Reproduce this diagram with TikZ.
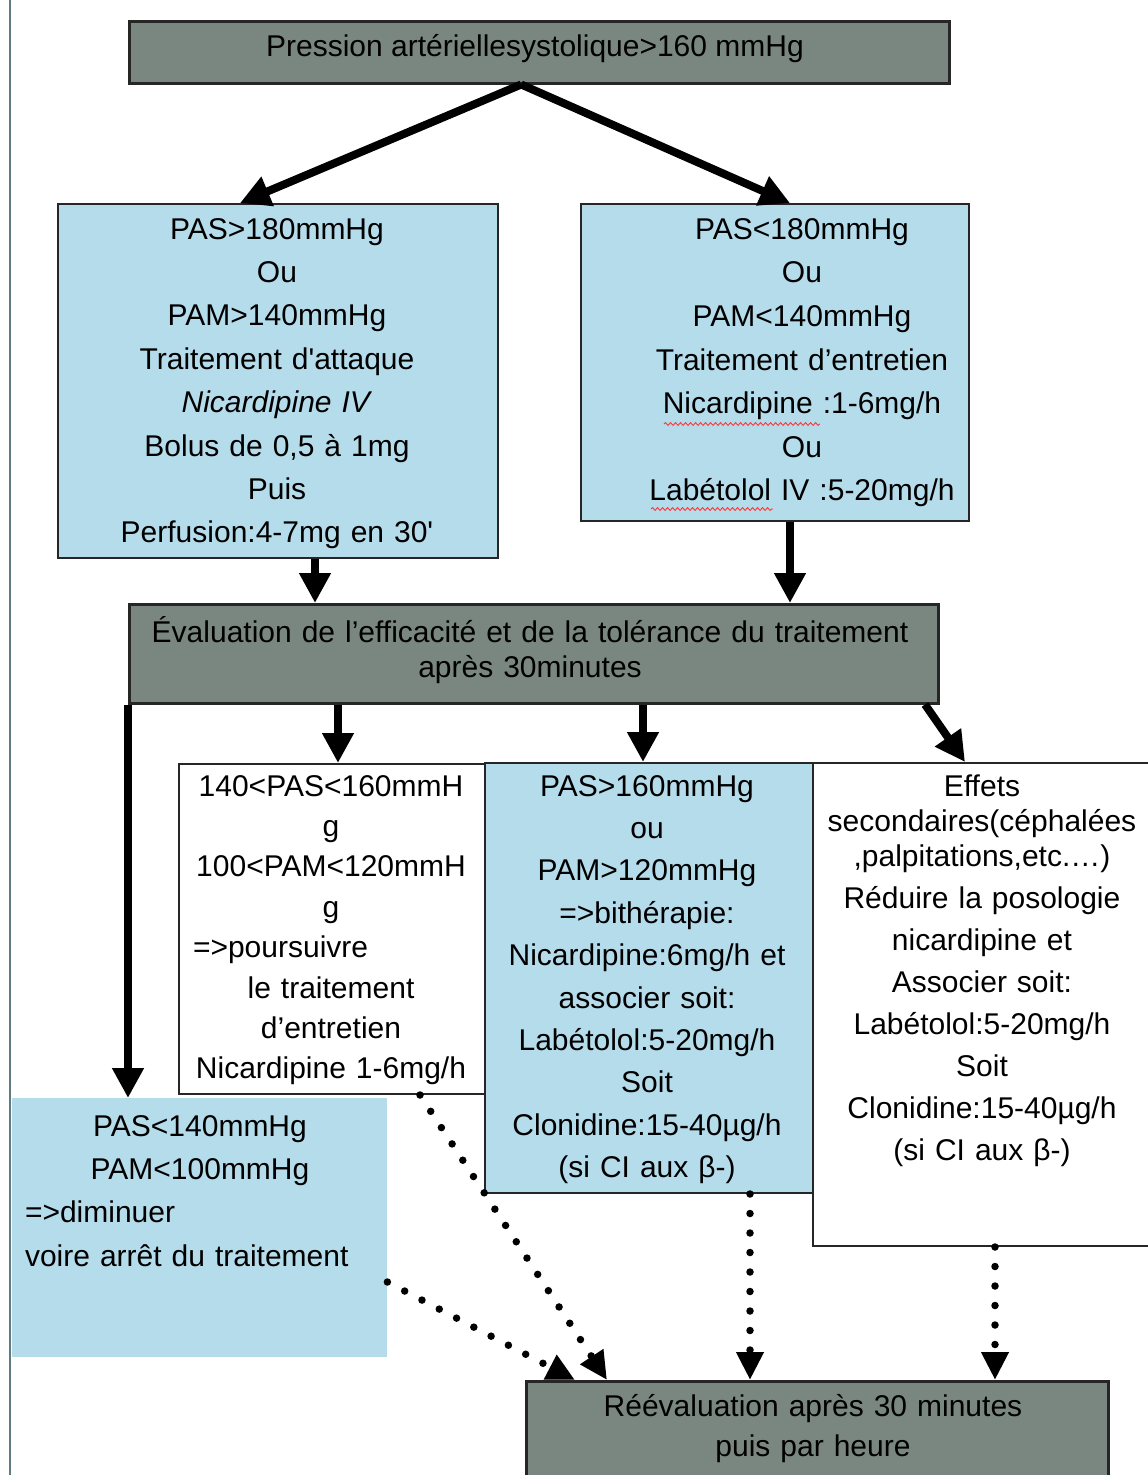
\documentclass[tikz,border=0pt]{standalone}
\usepackage{fontspec}
\setmainfont{Liberation Sans}
\usetikzlibrary{arrows.meta,decorations.pathmorphing}
\definecolor{lightblue}{RGB}{181,220,235}
\definecolor{hdrgray}{RGB}{122,135,129}
\definecolor{pageline}{RGB}{95,125,128}
\tikzset{
  hdrbox/.style={draw=black!85, line width=2.5pt, fill=hdrgray, inner sep=0pt, anchor=north west},
  bluebox/.style={draw=black!85, line width=2pt, fill=lightblue, inner sep=0pt, anchor=north west},
  whitebox/.style={draw=black!85, line width=2pt, fill=white, inner sep=0pt, anchor=north west},
  plainblue/.style={fill=lightblue, inner sep=0pt, anchor=north west},
  txt/.style={inner sep=0pt, anchor=north, align=center},
  bigarrow/.style={line width=8pt, -{Triangle[length=30pt,width=30pt]}},
  dotarrow/.style={line width=7.5pt, line cap=round, dash pattern=on 0pt off 19.5pt, -{Triangle[length=28pt,width=26pt]}},
  squiggle/.style={red!80, line width=0.9pt, decorate, decoration={snake, amplitude=1.4pt, segment length=5pt}}
}
\begin{document}
\begin{tikzpicture}[x=1pt,y=-1pt]
\useasboundingbox (0,0) rectangle (1148,1475);
\fill[white] (0,0) rectangle (1148,1475);
\draw[pageline, line width=2pt] (10,0) -- (10,1475);

% boxes
\node[hdrbox, minimum width=820pt, minimum height=62pt] (top) at (128,20) {};
\node[txt, font=\fontsize{30}{36}\selectfont] (topT) at (535,30.8) {\strut Pression artériellesystolique>160 mmHg};

\node[bluebox, minimum width=440pt, minimum height=354pt] (lt) at (57,203) {};
\node[txt, text width=420pt, font=\fontsize{30}{43.4}\selectfont] (ltT) at (277,208.6) {\strut PAS>180mmHg\\ Ou\\ PAM>140mmHg\\ Traitement d\textquotesingle attaque\\ \textit{Nicardipine IV}\\ Bolus de 0,5 à 1mg\\ Puis\\ Perfusion:4-7mg en 30\textquotesingle};

\node[bluebox, minimum width=388pt, minimum height=317pt] (rt) at (580,203) {};
\node[txt, text width=360pt, font=\fontsize{30}{43.6}\selectfont] (rtT) at (802,208.5) {\strut PAS<180mmHg\\ Ou\\ PAM<140mmHg\\ Traitement d’entretien\\ Nicardipine :1-6mg/h\\ Ou\\ Labétolol IV :5-20mg/h};
\draw[squiggle] (664,424) -- (820,424);
\draw[squiggle] (651,509) -- (773,509);

\node[hdrbox, minimum width=809pt, minimum height=99pt] (eval) at (128,603) {};
\node[txt, text width=790pt, font=\fontsize{30}{35}\selectfont] (evalT) at (530,616.5) {\strut Évaluation de l’efficacité et de la tolérance du traitement\\ après 30minutes};

\node[whitebox, minimum width=306pt, minimum height=330pt] (mid1) at (178,763) {};
\node[txt, text width=290pt, font=\fontsize{30}{40.4}\selectfont] (mid1T) at (331,767.7) {\strut 140<PAS<160mmH\\ g\\ 100<PAM<120mmH\\ g\\ \makebox[\hsize][l]{\hspace{7pt}=>poursuivre}\\ le traitement\\ d’entretien\\ Nicardipine 1-6mg/h};

\node[bluebox, minimum width=328pt, minimum height=430pt] (mid2) at (484,762) {};
\node[txt, text width=320pt, font=\fontsize{30}{42.4}\selectfont] (mid2T) at (647,766.3) {\strut PAS>160mmHg\\ ou\\ PAM>120mmHg\\ =>bithérapie:\\ Nicardipine:6mg/h et\\ associer soit:\\ Labétolol:5-20mg/h\\ Soit\\ Clonidine:15-40µg/h\\ (si CI aux β-)};

\node[whitebox, minimum width=344pt, minimum height=483pt] (mid3) at (812,762) {};
\node[txt, text width=326pt, font=\fontsize{30}{42}\selectfont] (mid3T) at (982,766.6) {\strut Effets\\[-7pt] secondaires(céphalées\\[-7pt] ,palpitations,etc.…)\\ Réduire la posologie\\ nicardipine et\\ Associer soit:\\ Labétolol:5-20mg/h\\ Soit\\ Clonidine:15-40µg/h\\ (si CI aux β-)};

\node[plainblue, minimum width=375pt, minimum height=259pt] (low) at (12,1098) {};
\node[txt, text width=350pt, font=\fontsize{30}{43.3}\selectfont] (lowT) at (200,1105.7) {\strut PAS<140mmHg\\ PAM<100mmHg\\ \makebox[\hsize][l]{=>diminuer}\\ \makebox[\hsize][l]{voire arrêt du traitement}};

\node[hdrbox, minimum width=582pt, minimum height=100pt] (fin) at (525,1380) {};
\node[txt, text width=570pt, font=\fontsize{30}{40}\selectfont] (finT) at (813,1388) {\strut Réévaluation après 30 minutes\\ puis par heure};

% solid arrows
\draw[bigarrow] ([xshift=-18pt]top.south) -- ([xshift=183pt]lt.north west);
\draw[bigarrow] ([xshift=-18pt]top.south) -- ([xshift=210pt]rt.north west);
\draw[bigarrow] ([xshift=258pt]lt.south west) -- ([xshift=187pt]eval.north west);
\draw[bigarrow] ([xshift=210pt]rt.south west) -- ([xshift=662pt]eval.north west);
\draw[bigarrow] (eval.south west) -- ([xshift=116pt]low.north west);
\draw[bigarrow] ([xshift=210pt]eval.south west) -- ([xshift=160pt]mid1.north west);
\draw[bigarrow] ([xshift=515pt]eval.south west) -- ([xshift=159pt]mid2.north west);
\draw[bigarrow] ([xshift=797pt]eval.south west) -- ([xshift=153pt]mid3.north west);

% dotted arrows
\draw[dotarrow] ([yshift=-184pt]low.north east) -- ([xshift=50pt]fin.north west);
\draw[dotarrow] ([xshift=242pt]mid1.south west) -- ([xshift=82pt]fin.north west);
\draw[dotarrow] ([xshift=266pt]mid2.south west) -- ([xshift=225pt]fin.north west);
\draw[dotarrow] ([xshift=183pt]mid3.south west) -- ([xshift=470pt]fin.north west);
\end{tikzpicture}
\end{document}
